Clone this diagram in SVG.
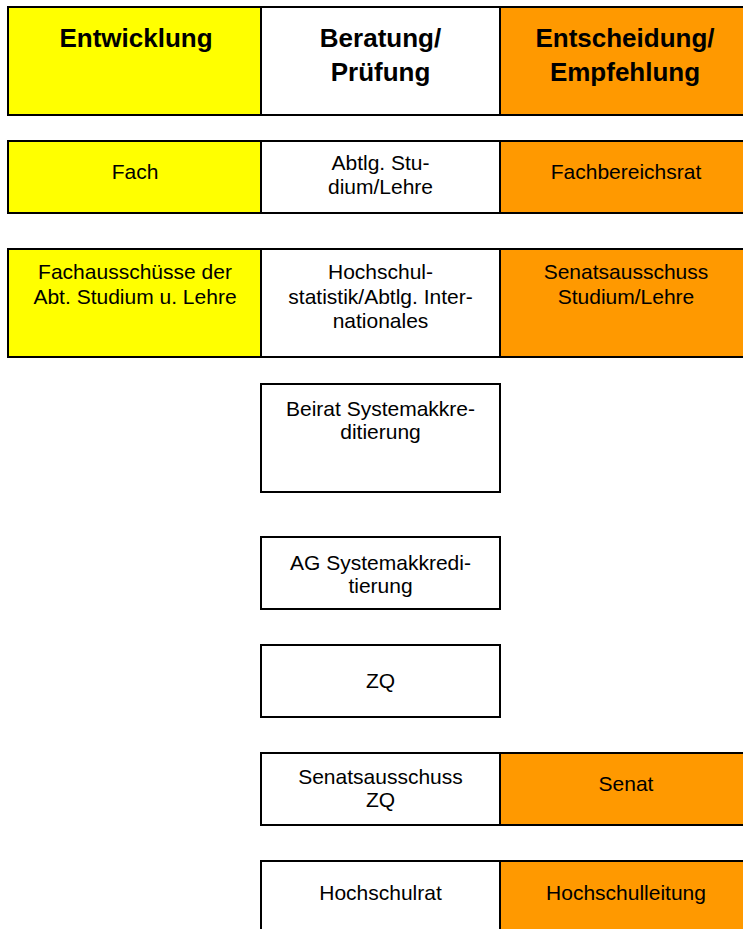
<svg xmlns="http://www.w3.org/2000/svg" width="743" height="929" viewBox="0 0 743 929">
<style>
.box{stroke:#000;stroke-width:2}
.y{fill:#FFFF00}
.w{fill:#FFFFFF}
.o{fill:#FF9900}
text{font-family:"Liberation Sans",Arial,sans-serif;fill:#000;text-anchor:middle}
.h{font-size:26px;font-weight:bold}
.t{font-size:21px}
</style>
<rect width="743" height="929" fill="#fff"/>
<g id="connectors"/>
<g id="hdr-entwicklung"><rect class="box y" x="8" y="7" width="253" height="108"/><text class="h" x="136" y="47">Entwicklung</text></g>
<g id="hdr-beratung"><rect class="box w" x="261" y="7" width="239" height="108"/><text class="h" x="380.5" y="47">Beratung/</text><text class="h" x="380.5" y="81">Prüfung</text></g>
<g id="hdr-entscheidung"><rect class="box o" x="500" y="7" width="260" height="108"/><text class="h" x="625" y="47">Entscheidung/</text><text class="h" x="625" y="81">Empfehlung</text></g>

<g id="fach"><rect class="box y" x="8" y="141" width="253" height="72"/><text class="t" x="135" y="179">Fach</text></g>
<g id="abtlg-studium"><rect class="box w" x="261" y="141" width="239" height="72"/><text class="t" x="380.5" y="170">Abtlg. Stu-</text><text class="t" x="380.5" y="194">dium/Lehre</text></g>
<g id="fachbereichsrat"><rect class="box o" x="500" y="141" width="260" height="72"/><text class="t" x="626" y="179">Fachbereichsrat</text></g>

<g id="fachausschuesse"><rect class="box y" x="8" y="249" width="253" height="108"/><text class="t" x="135" y="279">Fachausschüsse der</text><text class="t" x="135" y="304">Abt. Studium u. Lehre</text></g>
<g id="hochschulstatistik"><rect class="box w" x="261" y="249" width="239" height="108"/><text class="t" x="380.5" y="279">Hochschul-</text><text class="t" x="380.5" y="304">statistik/Abtlg. Inter-</text><text class="t" x="380.5" y="328">nationales</text></g>
<g id="senatsausschuss-sl"><rect class="box o" x="500" y="249" width="260" height="108"/><text class="t" x="626" y="279">Senatsausschuss</text><text class="t" x="626" y="304">Studium/Lehre</text></g>

<g id="beirat"><rect class="box w" x="261" y="384" width="239" height="108"/><text class="t" x="380.5" y="416">Beirat Systemakkre-</text><text class="t" x="380.5" y="439">ditierung</text></g>

<g id="ag"><rect class="box w" x="261" y="537" width="239" height="72"/><text class="t" x="380.5" y="570">AG Systemakkredi-</text><text class="t" x="380.5" y="593">tierung</text></g>

<g id="zq"><rect class="box w" x="261" y="645" width="239" height="72"/><text class="t" x="380.5" y="688">ZQ</text></g>

<g id="senatsausschuss-zq"><rect class="box w" x="261" y="753" width="239" height="72"/><text class="t" x="380.5" y="784">Senatsausschuss</text><text class="t" x="380.5" y="807">ZQ</text></g>
<g id="senat"><rect class="box o" x="500" y="753" width="260" height="72"/><text class="t" x="626" y="791">Senat</text></g>

<g id="hochschulrat"><rect class="box w" x="261" y="861" width="239" height="110"/><text class="t" x="380.5" y="900">Hochschulrat</text></g>
<g id="hochschulleitung"><rect class="box o" x="500" y="861" width="260" height="110"/><text class="t" x="626" y="900">Hochschulleitung</text></g>
</svg>
